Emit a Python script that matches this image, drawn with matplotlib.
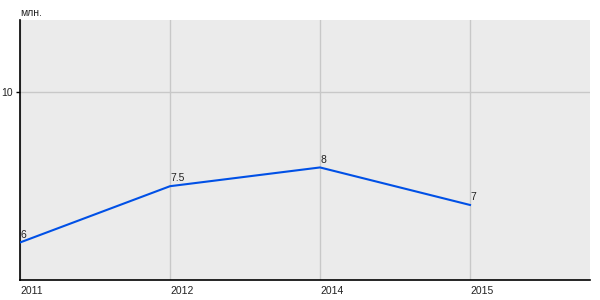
import matplotlib
matplotlib.use("Agg")
import matplotlib.pyplot as plt

years = ["2011", "2012", "2014", "2015"]
values = [6, 7.5, 8, 7]
value_labels = ["6", "7.5", "8", "7"]
y_ticks = [10]
unit_label = "млн."

plt.rcParams['font.family'] = ['Liberation Sans', 'DejaVu Sans']

fig = plt.figure(figsize=(6, 3), dpi=100)
ax = fig.add_axes([20/600, 20/300, 570/600, 260/300])
ax.set_facecolor('#EBEBEB')
x = list(range(len(years)))
ax.plot(x, values, color='#0050E6', lw=1.5, solid_joinstyle='miter', zorder=3)
for xi, v, lab in zip(x, values, value_labels):
    ax.annotate(lab, (xi, v), xytext=(0.5, 2), textcoords='offset points',
                ha='left', va='bottom', fontsize=7.5, color='#222222')
ax.set_xlim(0, 3.8)
ax.set_ylim(5, 11.93)
ax.set_xticks(x)
ax.set_xticklabels(years, fontsize=7.5, color='#222222', ha='left')
ax.set_yticks(y_ticks)
ax.set_yticklabels([str(t) for t in y_ticks], fontsize=7.5, color='#222222')
ax.tick_params(axis='x', length=0, pad=4)
ax.tick_params(axis='y', length=3, width=1, pad=2)
ax.grid(True, color='#C8C8C8', lw=1)
ax.set_axisbelow(True)
for s in ['top', 'right']:
    ax.spines[s].set_visible(False)
for s in ['left', 'bottom']:
    ax.spines[s].set_color('black')
    ax.spines[s].set_linewidth(1.2)
fig.text(20/600, 1 - 13/300, unit_label, fontsize=7.5, color='#222222', va='center', ha='left')
fig.savefig('out.png', dpi=100)
